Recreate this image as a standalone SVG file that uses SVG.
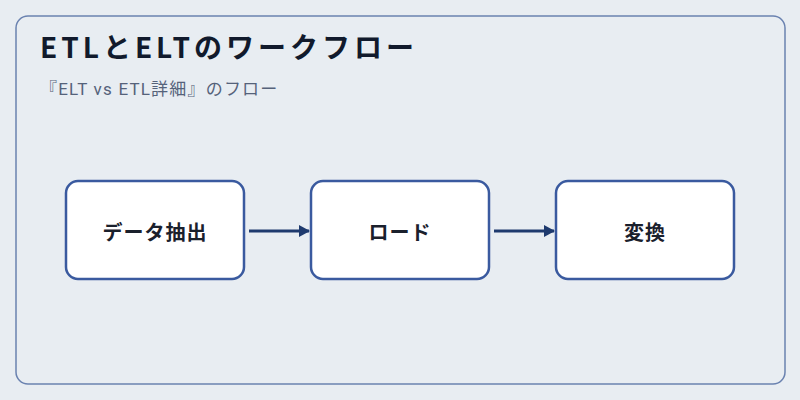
<svg xmlns="http://www.w3.org/2000/svg" width="800" height="400" viewBox="0 0 800 400">
<defs>
<style>
.bg{fill:#e8edf2}
.frame{fill:#e8edf2;stroke:#6a82b0;stroke-width:1.5}
.box{fill:#ffffff;stroke:#3a5a9f;stroke-width:2.5}
.lbl{font-family:"Noto Sans CJK JP","Noto Sans",sans-serif;font-size:20px;font-weight:bold;fill:#1a202c;text-anchor:middle;dominant-baseline:central;letter-spacing:1px}
.title{font-family:"Noto Sans CJK JP","Noto Sans",sans-serif;font-size:28px;font-weight:bold;fill:#111a2c;letter-spacing:4px}
.sub{font-family:Roboto,"Noto Sans CJK JP",sans-serif;font-size:17px;fill:#55627a;letter-spacing:1.2px}
.edge{stroke:#1e3a6e;stroke-width:3;fill:none}
</style>
<marker id="ah" markerWidth="12" markerHeight="12" refX="10" refY="6" orient="auto" markerUnits="userSpaceOnUse">
<path d="M0,0 L11,6 L0,12 Z" fill="#1e3a6e"/>
</marker>
</defs>
<rect class="bg" x="0" y="0" width="800" height="400"/>
<rect class="frame" x="16" y="16" width="769" height="368" rx="12"/>
<text class="title" x="40" y="58">ETLとELTのワークフロー</text>
<text class="sub" x="40" y="95">『ELT vs ETL詳細』のフロー</text>
<g id="connectors">
<line class="edge" x1="249" y1="231" x2="309" y2="231" marker-end="url(#ah)"/>
<line class="edge" x1="494" y1="231" x2="554" y2="231" marker-end="url(#ah)"/>
</g>
<g id="node-extract">
<rect class="box" x="66" y="181" width="178" height="98" rx="12"/>
<text class="lbl" x="155" y="231">データ抽出</text>
</g>
<g id="node-load">
<rect class="box" x="311" y="181" width="178" height="98" rx="12"/>
<text class="lbl" x="400" y="231">ロード</text>
</g>
<g id="node-transform">
<rect class="box" x="556" y="181" width="178" height="98" rx="12"/>
<text class="lbl" x="645" y="231">変換</text>
</g>
</svg>
